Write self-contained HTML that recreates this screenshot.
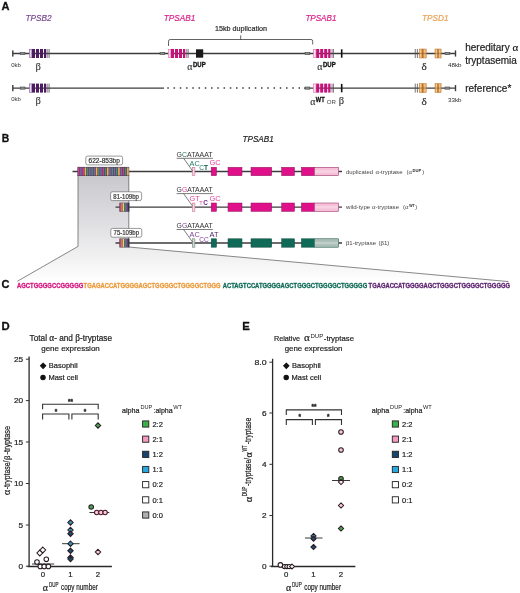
<!DOCTYPE html>
<html><head><meta charset="utf-8"><title>Figure</title>
<style>
html,body{margin:0;padding:0;background:#fff;}
svg{display:block;font-family:"Liberation Sans",sans-serif;}
.gk{font-family:"Liberation Serif","DejaVu Serif",serif;}
.b{font-weight:bold;}
.i{font-style:italic;}
</style></head><body>
<svg width="520" height="593" viewBox="0 0 520 593">
<rect width="520" height="593" fill="#fff"/>

<text x="1.5" y="9.7" font-size="11" fill="#111" stroke="#111" stroke-width="0.3" text-anchor="start" class="b" textLength="8" lengthAdjust="spacingAndGlyphs">A</text>
<text x="25.6" y="20.7" font-size="8.8" fill="#7a4c92" stroke="#7a4c92" stroke-width="0.2" text-anchor="start" class="i" textLength="26" lengthAdjust="spacingAndGlyphs">TPSB2</text>
<text x="163.8" y="20.7" font-size="8.8" fill="#d81f86" stroke="#d81f86" stroke-width="0.2" text-anchor="start" class="i" textLength="31.6" lengthAdjust="spacingAndGlyphs">TPSAB1</text>
<text x="305.4" y="20.7" font-size="8.8" fill="#d81f86" stroke="#d81f86" stroke-width="0.2" text-anchor="start" class="i" textLength="31" lengthAdjust="spacingAndGlyphs">TPSAB1</text>
<text x="422" y="20.7" font-size="8.8" fill="#eba355" stroke="#eba355" stroke-width="0.2" text-anchor="start" class="i" textLength="26.5" lengthAdjust="spacingAndGlyphs">TPSD1</text>
<text x="215" y="30.6" font-size="7.2" fill="#2b2b2d" stroke="#2b2b2d" stroke-width="0.2" text-anchor="start" textLength="52" lengthAdjust="spacingAndGlyphs">15kb duplication</text>
<rect x="12.1" y="50.4" width="1.4" height="6.2" fill="#3c3c3e"/>
<rect x="454.8" y="50.4" width="1.4" height="6.2" fill="#3c3c3e"/>
<line x1="13" y1="53.5" x2="455" y2="53.5" stroke="#3c3c3e" stroke-width="1.3"/>
<rect x="20.2" y="52.4" width="4.8" height="2.2" fill="#8c8c8c" stroke="#484848" stroke-width="0.6"/>
<rect x="29.3" y="49.3" width="2.5" height="8.4" fill="#e6d8ee" stroke="#8a5aa0" stroke-width="0.6"/>
<rect x="32" y="49.0" width="3" height="9" fill="#4d1c60"/>
<rect x="36" y="49.0" width="3" height="9" fill="#4d1c60"/>
<rect x="40" y="49.0" width="3" height="9" fill="#4d1c60"/>
<rect x="44" y="49.0" width="2.3" height="9" fill="#4d1c60"/>
<rect x="47.5" y="49.0" width="0.7" height="9" fill="#5a4a5a"/>
<rect x="48.8" y="49.0" width="0.7" height="9" fill="#5a4a5a"/>
<rect x="305" y="52.4" width="4.8" height="2.2" fill="#8c8c8c" stroke="#484848" stroke-width="0.6"/>
<rect x="313.5" y="49.3" width="2.5" height="8.4" fill="#fbe0ee" stroke="#e86aac" stroke-width="0.6"/>
<rect x="316.2" y="49.0" width="3" height="9" fill="#c4127a"/>
<rect x="320.2" y="49.0" width="3" height="9" fill="#c4127a"/>
<rect x="324.2" y="49.0" width="3" height="9" fill="#c4127a"/>
<rect x="328.2" y="49.0" width="2.3" height="9" fill="#c4127a"/>
<rect x="331.7" y="49.0" width="0.7" height="9" fill="#5a4a5a"/>
<rect x="333.0" y="49.0" width="0.7" height="9" fill="#5a4a5a"/>
<rect x="340.9" y="49.3" width="1.6" height="8.4" fill="#111"/>
<rect x="414.8" y="49.0" width="0.8" height="9" fill="#555"/>
<rect x="416.9" y="49.0" width="0.8" height="9" fill="#555"/>
<rect x="419.4" y="49.0" width="6.8" height="9" fill="#e9983f" fill-opacity="0.9" stroke="#b87a3a" stroke-width="0.5"/>
<rect x="422.4" y="49.0" width="0.8" height="9" fill="#8a5a2a"/>
<rect x="420.29999999999995" y="49.3" width="0.8" height="8.4" fill="#fbe3c2" opacity="0.8"/>
<rect x="424.5" y="49.3" width="0.8" height="8.4" fill="#fbe3c2" opacity="0.8"/>
<rect x="419.4" y="53.0" width="6.8" height="1" fill="#7a5a3a" opacity="0.45"/>
<rect x="435" y="49.0" width="6.1" height="9" fill="#e9983f" fill-opacity="0.9" stroke="#b87a3a" stroke-width="0.5"/>
<rect x="437.65000000000003" y="49.0" width="0.8" height="9" fill="#8a5a2a"/>
<rect x="435.9" y="49.3" width="0.8" height="8.4" fill="#fbe3c2" opacity="0.8"/>
<rect x="439.40000000000003" y="49.3" width="0.8" height="8.4" fill="#fbe3c2" opacity="0.8"/>
<rect x="435" y="53.0" width="6.1" height="1" fill="#7a5a3a" opacity="0.45"/>
<rect x="445" y="52.4" width="4.8" height="2.2" fill="#8c8c8c" stroke="#484848" stroke-width="0.6"/>
<text x="11.2" y="66.5" font-size="6" fill="#333" text-anchor="start">0kb</text>
<text x="35.6" y="69.5" font-size="10.5" fill="#444" stroke="#444" stroke-width="0.2" text-anchor="start" class="gk">β</text>
<text x="421.6" y="70.4" font-size="11.2" fill="#333" stroke="#333" stroke-width="0.2" text-anchor="start" class="gk">δ</text>
<rect x="12.1" y="85.0" width="1.4" height="6.2" fill="#3c3c3e"/>
<rect x="454.8" y="85.0" width="1.4" height="6.2" fill="#3c3c3e"/>
<line x1="13" y1="88.1" x2="164" y2="88.1" stroke="#3c3c3e" stroke-width="1.3"/>
<line x1="167.3" y1="88.1" x2="302" y2="88.1" stroke="#3c3c3e" stroke-width="1.5" stroke-dasharray="1.5 4.75"/>
<line x1="304" y1="88.1" x2="455" y2="88.1" stroke="#3c3c3e" stroke-width="1.3"/>
<rect x="20.2" y="87.0" width="4.8" height="2.2" fill="#8c8c8c" stroke="#484848" stroke-width="0.6"/>
<rect x="29.3" y="83.89999999999999" width="2.5" height="8.4" fill="#e6d8ee" stroke="#8a5aa0" stroke-width="0.6"/>
<rect x="32" y="83.6" width="3" height="9" fill="#4d1c60"/>
<rect x="36" y="83.6" width="3" height="9" fill="#4d1c60"/>
<rect x="40" y="83.6" width="3" height="9" fill="#4d1c60"/>
<rect x="44" y="83.6" width="2.3" height="9" fill="#4d1c60"/>
<rect x="47.5" y="83.6" width="0.7" height="9" fill="#5a4a5a"/>
<rect x="48.8" y="83.6" width="0.7" height="9" fill="#5a4a5a"/>
<rect x="305" y="87.0" width="4.8" height="2.2" fill="#8c8c8c" stroke="#484848" stroke-width="0.6"/>
<rect x="313.5" y="83.89999999999999" width="2.5" height="8.4" fill="#fbe0ee" stroke="#e86aac" stroke-width="0.6"/>
<rect x="316.2" y="83.6" width="3" height="9" fill="#c4127a"/>
<rect x="320.2" y="83.6" width="3" height="9" fill="#c4127a"/>
<rect x="324.2" y="83.6" width="3" height="9" fill="#c4127a"/>
<rect x="328.2" y="83.6" width="2.3" height="9" fill="#c4127a"/>
<rect x="331.7" y="83.6" width="0.7" height="9" fill="#5a4a5a"/>
<rect x="333.0" y="83.6" width="0.7" height="9" fill="#5a4a5a"/>
<rect x="340.9" y="83.89999999999999" width="1.6" height="8.4" fill="#111"/>
<rect x="414.8" y="83.6" width="0.8" height="9" fill="#555"/>
<rect x="416.9" y="83.6" width="0.8" height="9" fill="#555"/>
<rect x="419.4" y="83.6" width="6.8" height="9" fill="#e9983f" fill-opacity="0.9" stroke="#b87a3a" stroke-width="0.5"/>
<rect x="422.4" y="83.6" width="0.8" height="9" fill="#8a5a2a"/>
<rect x="420.29999999999995" y="83.89999999999999" width="0.8" height="8.4" fill="#fbe3c2" opacity="0.8"/>
<rect x="424.5" y="83.89999999999999" width="0.8" height="8.4" fill="#fbe3c2" opacity="0.8"/>
<rect x="419.4" y="87.6" width="6.8" height="1" fill="#7a5a3a" opacity="0.45"/>
<rect x="435" y="83.6" width="6.1" height="9" fill="#e9983f" fill-opacity="0.9" stroke="#b87a3a" stroke-width="0.5"/>
<rect x="437.65000000000003" y="83.6" width="0.8" height="9" fill="#8a5a2a"/>
<rect x="435.9" y="83.89999999999999" width="0.8" height="8.4" fill="#fbe3c2" opacity="0.8"/>
<rect x="439.40000000000003" y="83.89999999999999" width="0.8" height="8.4" fill="#fbe3c2" opacity="0.8"/>
<rect x="435" y="87.6" width="6.1" height="1" fill="#7a5a3a" opacity="0.45"/>
<rect x="445" y="87.0" width="4.8" height="2.2" fill="#8c8c8c" stroke="#484848" stroke-width="0.6"/>
<text x="11.2" y="101.1" font-size="6" fill="#333" text-anchor="start">0kb</text>
<text x="35.6" y="104.1" font-size="10.5" fill="#444" stroke="#444" stroke-width="0.2" text-anchor="start" class="gk">β</text>
<text x="421.6" y="105.0" font-size="11.2" fill="#333" stroke="#333" stroke-width="0.2" text-anchor="start" class="gk">δ</text>
<rect x="160" y="52.4" width="4.8" height="2.2" fill="#8c8c8c" stroke="#484848" stroke-width="0.6"/>
<rect x="168.3" y="49.3" width="2.5" height="8.4" fill="#fbe0ee" stroke="#e86aac" stroke-width="0.6"/>
<rect x="171" y="49.0" width="3" height="9" fill="#c4127a"/>
<rect x="175" y="49.0" width="3" height="9" fill="#c4127a"/>
<rect x="179" y="49.0" width="3" height="9" fill="#c4127a"/>
<rect x="183" y="49.0" width="2.3" height="9" fill="#c4127a"/>
<rect x="186.5" y="49.0" width="0.7" height="9" fill="#5a4a5a"/>
<rect x="187.8" y="49.0" width="0.7" height="9" fill="#5a4a5a"/>
<rect x="196" y="49.3" width="7.2" height="8.4" fill="#1a1a1a"/>
<path d="M168.5 46 V41.2 Q168.5 39.5 170.2 39.5 H311 Q312.7 39.5 312.7 41.2 V44.5 M240.7 39.5 V35.4" fill="none" stroke="#3c3c3e" stroke-width="0.8"/>
<text x="187.2" y="69.9" font-size="9.6" fill="#444" stroke="#444" stroke-width="0.2" text-anchor="start" class="gk" textLength="5.2" lengthAdjust="spacingAndGlyphs">α</text>
<text x="193" y="67.2" font-size="6.8" fill="#111" stroke="#111" stroke-width="0.3" text-anchor="start" class="b" textLength="12.7" lengthAdjust="spacingAndGlyphs">DUP</text>
<text x="317.2" y="69.9" font-size="9.6" fill="#444" stroke="#444" stroke-width="0.2" text-anchor="start" class="gk" textLength="5.2" lengthAdjust="spacingAndGlyphs">α</text>
<text x="323" y="67.2" font-size="6.8" fill="#111" stroke="#111" stroke-width="0.3" text-anchor="start" class="b" textLength="12.7" lengthAdjust="spacingAndGlyphs">DUP</text>
<text x="310.2" y="104.5" font-size="9.6" fill="#444" stroke="#444" stroke-width="0.2" text-anchor="start" class="gk" textLength="5.2" lengthAdjust="spacingAndGlyphs">α</text>
<text x="315.8" y="101.8" font-size="6.8" fill="#111" stroke="#111" stroke-width="0.3" text-anchor="start" class="b" textLength="8.8" lengthAdjust="spacingAndGlyphs">WT</text>
<text x="326.7" y="104.4" font-size="6" fill="#444" text-anchor="start" textLength="9.2" lengthAdjust="spacingAndGlyphs">OR</text>
<text x="338.8" y="104.4" font-size="10.5" fill="#444" stroke="#444" stroke-width="0.2" text-anchor="start" class="gk">β</text>
<text x="448" y="67" font-size="6" fill="#2a2a2a" text-anchor="start" textLength="13.6" lengthAdjust="spacingAndGlyphs">48kb</text>
<text x="448" y="101.6" font-size="6" fill="#2a2a2a" text-anchor="start" textLength="13.6" lengthAdjust="spacingAndGlyphs">33kb</text>
<text x="465.2" y="51" font-size="10" fill="#222" stroke="#222" stroke-width="0.2" text-anchor="start">hereditary <tspan class="gk" font-size="11">α</tspan></text>
<text x="465.2" y="63.5" font-size="10" fill="#222" stroke="#222" stroke-width="0.2" text-anchor="start" textLength="51.7" lengthAdjust="spacingAndGlyphs">tryptasemia</text>
<text x="465.2" y="91.6" font-size="10" fill="#222" stroke="#222" stroke-width="0.2" text-anchor="start">reference*</text>
<text x="1.8" y="141.7" font-size="11" fill="#111" stroke="#111" stroke-width="0.3" text-anchor="start" class="b" textLength="7.5" lengthAdjust="spacingAndGlyphs">B</text>
<text x="242.5" y="142" font-size="8.6" fill="#222" stroke="#222" stroke-width="0.2" text-anchor="start" class="i" textLength="31.2" lengthAdjust="spacingAndGlyphs">TPSAB1</text>
<defs>
<linearGradient id="g1" x1="0" y1="0" x2="0" y2="1"><stop offset="0" stop-color="#c9c9cd"/><stop offset="0.45" stop-color="#dfdfe2"/><stop offset="0.75" stop-color="#f0f0f1"/><stop offset="1" stop-color="#ffffff"/></linearGradient>
</defs>
<path d="M78 175 H128.8 V247 L508.5 281.8 H17 L78 246.4 Z" fill="url(#g1)"/>
<path d="M78 175 V246.4 L17.3 281.3 M128.8 175 V247 L508.5 281.6" fill="none" stroke="#555" stroke-width="0.7"/>
<line x1="72.5" y1="171.5" x2="342" y2="171.5" stroke="#3c3c3e" stroke-width="1.3"/>
<line x1="115.5" y1="207.2" x2="342" y2="207.2" stroke="#3c3c3e" stroke-width="1.3"/>
<line x1="115.5" y1="243" x2="342" y2="243" stroke="#3c3c3e" stroke-width="1.3"/>
<rect x="77.4" y="166.9" width="51.8" height="9.1" fill="#4a3c54"/>
<rect x="77.90" y="167.4" width="1.63" height="8.1" fill="#c4408c"/>
<rect x="80.13" y="167.4" width="1.63" height="8.1" fill="#8462a6"/>
<rect x="82.37" y="167.4" width="1.63" height="8.1" fill="#c4408c"/>
<rect x="84.60" y="167.4" width="1.63" height="8.1" fill="#f2ae4e"/>
<rect x="86.84" y="167.4" width="1.63" height="8.1" fill="#4a8c7a"/>
<rect x="89.07" y="167.4" width="1.63" height="8.1" fill="#8462a6"/>
<rect x="91.31" y="167.4" width="1.63" height="8.1" fill="#4a8c7a"/>
<rect x="93.54" y="167.4" width="1.63" height="8.1" fill="#8462a6"/>
<rect x="95.78" y="167.4" width="1.63" height="8.1" fill="#f2ae4e"/>
<rect x="98.01" y="167.4" width="1.63" height="8.1" fill="#4a8c7a"/>
<rect x="100.25" y="167.4" width="1.63" height="8.1" fill="#8462a6"/>
<rect x="102.48" y="167.4" width="1.63" height="8.1" fill="#c4408c"/>
<rect x="104.72" y="167.4" width="1.63" height="8.1" fill="#4a8c7a"/>
<rect x="106.95" y="167.4" width="1.63" height="8.1" fill="#f2ae4e"/>
<rect x="109.19" y="167.4" width="1.63" height="8.1" fill="#8462a6"/>
<rect x="111.42" y="167.4" width="1.63" height="8.1" fill="#4a8c7a"/>
<rect x="113.66" y="167.4" width="1.63" height="8.1" fill="#8462a6"/>
<rect x="115.89" y="167.4" width="1.63" height="8.1" fill="#4a8c7a"/>
<rect x="118.13" y="167.4" width="1.63" height="8.1" fill="#f2ae4e"/>
<rect x="120.36" y="167.4" width="1.63" height="8.1" fill="#8462a6"/>
<rect x="122.60" y="167.4" width="1.63" height="8.1" fill="#c4408c"/>
<rect x="124.83" y="167.4" width="1.63" height="8.1" fill="#4a8c7a"/>
<rect x="127.07" y="167.4" width="1.63" height="8.1" fill="#f2ae4e"/>
<rect x="119.4" y="202.7" width="10" height="9" fill="#4a3c54"/>
<rect x="119.75" y="203.1" width="1.2" height="8.2" fill="#c4408c"/>
<rect x="121.37" y="203.1" width="1.2" height="8.2" fill="#f2ae4e"/>
<rect x="122.99" y="203.1" width="1.2" height="8.2" fill="#f6c878"/>
<rect x="124.61" y="203.1" width="1.2" height="8.2" fill="#4a8c7a"/>
<rect x="126.23" y="203.1" width="1.2" height="8.2" fill="#8462a6"/>
<rect x="127.85" y="203.1" width="1.2" height="8.2" fill="#3a3040"/>
<rect x="119.4" y="238.5" width="10" height="9" fill="#4a3c54"/>
<rect x="119.75" y="238.9" width="1.2" height="8.2" fill="#c4408c"/>
<rect x="121.37" y="238.9" width="1.2" height="8.2" fill="#f2ae4e"/>
<rect x="122.99" y="238.9" width="1.2" height="8.2" fill="#f6c878"/>
<rect x="124.61" y="238.9" width="1.2" height="8.2" fill="#4a8c7a"/>
<rect x="126.23" y="238.9" width="1.2" height="8.2" fill="#8462a6"/>
<rect x="127.85" y="238.9" width="1.2" height="8.2" fill="#3a3040"/>
<rect x="85.8" y="156.1" width="36.8" height="8.8" rx="1.8" fill="#fff" stroke="#555" stroke-width="0.6"/>
<text x="104.19999999999999" y="162.9" font-size="6.6" fill="#333" stroke="#333" stroke-width="0.2" text-anchor="middle" textLength="31.299999999999997" lengthAdjust="spacingAndGlyphs">622-853bp</text>
<rect x="110.6" y="191.8" width="31" height="8.8" rx="1.8" fill="#fff" stroke="#555" stroke-width="0.6"/>
<text x="126.1" y="198.60000000000002" font-size="6.6" fill="#333" stroke="#333" stroke-width="0.2" text-anchor="middle" textLength="25.5" lengthAdjust="spacingAndGlyphs">81-109bp</text>
<rect x="110.8" y="228.4" width="31" height="8.8" rx="1.8" fill="#fff" stroke="#555" stroke-width="0.6"/>
<text x="126.3" y="235.20000000000002" font-size="6.6" fill="#333" stroke="#333" stroke-width="0.2" text-anchor="middle" textLength="25.5" lengthAdjust="spacingAndGlyphs">75-109bp</text>
<rect x="211.2" y="167.3" width="5.3" height="8.4" fill="#e0108a" stroke="#8a1458" stroke-width="0.5"/>
<rect x="228" y="167.3" width="14" height="8.4" fill="#e0108a" stroke="#8a1458" stroke-width="0.5"/>
<rect x="251" y="167.3" width="20.7" height="8.4" fill="#e0108a" stroke="#8a1458" stroke-width="0.5"/>
<rect x="281.7" y="167.3" width="12.8" height="8.4" fill="#e0108a" stroke="#8a1458" stroke-width="0.5"/>
<rect x="301.4" y="167.3" width="13" height="8.4" fill="#e0108a" stroke="#8a1458" stroke-width="0.5"/>
<rect x="314.3" y="167.3" width="24.3" height="8.4" fill="#f5c0d8" stroke="#8a1458" stroke-width="0.5"/>
<rect x="314.8" y="170.2" width="23.4" height="2.6" fill="#fff" opacity="0.28"/>
<rect x="211.2" y="203.0" width="5.3" height="8.4" fill="#e0108a" stroke="#8a1458" stroke-width="0.5"/>
<rect x="228" y="203.0" width="14" height="8.4" fill="#e0108a" stroke="#8a1458" stroke-width="0.5"/>
<rect x="251" y="203.0" width="20.7" height="8.4" fill="#e0108a" stroke="#8a1458" stroke-width="0.5"/>
<rect x="281.7" y="203.0" width="12.8" height="8.4" fill="#e0108a" stroke="#8a1458" stroke-width="0.5"/>
<rect x="301.4" y="203.0" width="13" height="8.4" fill="#e0108a" stroke="#8a1458" stroke-width="0.5"/>
<rect x="314.3" y="203.0" width="24.3" height="8.4" fill="#f5c0d8" stroke="#8a1458" stroke-width="0.5"/>
<rect x="314.8" y="205.89999999999998" width="23.4" height="2.6" fill="#fff" opacity="0.28"/>
<rect x="211.2" y="238.8" width="5.3" height="8.4" fill="#0f6b57" stroke="#0a4a3c" stroke-width="0.5"/>
<rect x="228" y="238.8" width="14" height="8.4" fill="#0f6b57" stroke="#0a4a3c" stroke-width="0.5"/>
<rect x="251" y="238.8" width="20.7" height="8.4" fill="#0f6b57" stroke="#0a4a3c" stroke-width="0.5"/>
<rect x="281.7" y="238.8" width="12.8" height="8.4" fill="#0f6b57" stroke="#0a4a3c" stroke-width="0.5"/>
<rect x="301.4" y="238.8" width="13" height="8.4" fill="#0f6b57" stroke="#0a4a3c" stroke-width="0.5"/>
<rect x="314.3" y="238.8" width="24.3" height="8.4" fill="#a9bdb6" stroke="#0a4a3c" stroke-width="0.5"/>
<rect x="314.8" y="241.7" width="23.4" height="2.6" fill="#fff" opacity="0.28"/>
<rect x="192.3" y="167.3" width="2.6" height="8.4" fill="#f8dbe6" stroke="#c06080" stroke-width="0.5"/>
<rect x="192.3" y="203.0" width="2.6" height="8.4" fill="#f8dbe6" stroke="#c06080" stroke-width="0.5"/>
<rect x="192.3" y="238.8" width="2.6" height="8.4" fill="#cfd8d4" stroke="#607068" stroke-width="0.5"/>
<text x="346" y="173.7" font-size="6" fill="#444" text-anchor="start" textLength="27" lengthAdjust="spacingAndGlyphs">duplicated</text>
<text x="375.5" y="173.7" font-size="6" fill="#444" text-anchor="start" textLength="27" lengthAdjust="spacingAndGlyphs"><tspan class="gk" font-size="6.6">α</tspan>-tryptase</text>
<text x="406.6" y="173.7" font-size="6" fill="#444" text-anchor="start">(<tspan class="gk" font-size="6.6">α</tspan></text>
<text x="412.6" y="171.6" font-size="3.9" fill="#222" text-anchor="start" class="b" textLength="8.6" lengthAdjust="spacingAndGlyphs">DUP</text>
<text x="422.2" y="173.7" font-size="6" fill="#444" text-anchor="start">)</text>
<text x="346" y="208.9" font-size="6" fill="#444" text-anchor="start" textLength="24.3" lengthAdjust="spacingAndGlyphs">wild-type</text>
<text x="372" y="208.9" font-size="6" fill="#444" text-anchor="start" textLength="27" lengthAdjust="spacingAndGlyphs"><tspan class="gk" font-size="6.6">α</tspan>-tryptase</text>
<text x="403.1" y="208.9" font-size="6" fill="#444" text-anchor="start">(<tspan class="gk" font-size="6.6">α</tspan></text>
<text x="409.2" y="206.8" font-size="3.9" fill="#222" text-anchor="start" class="b" textLength="5.4" lengthAdjust="spacingAndGlyphs">WT</text>
<text x="415.2" y="208.9" font-size="6" fill="#444" text-anchor="start">)</text>
<text x="346" y="244.6" font-size="6" fill="#444" text-anchor="start" textLength="30" lengthAdjust="spacingAndGlyphs"><tspan class="gk" font-size="6.6">β</tspan>1-tryptase</text>
<text x="378.4" y="244.6" font-size="6" fill="#444" text-anchor="start" textLength="11" lengthAdjust="spacingAndGlyphs">(<tspan class="gk" font-size="6.6">β</tspan>1)</text>
<text x="176.6" y="157.1" font-size="7.1" fill="#333" text-anchor="start" textLength="36" lengthAdjust="spacingAndGlyphs">G<tspan fill="#1f7a66">C</tspan>ATAAAT</text>
<path d="M176.6 158.29999999999998 H212.8 M183.6 158.29999999999998 L192.4 170.6" fill="none" stroke="#444" stroke-width="0.7"/>
<text x="189.6" y="165.7" font-size="7.3" fill="#2b2b2d" text-anchor="start"><tspan fill="#1f7a66">AC</tspan></text>
<text x="199.3" y="170.29999999999998" font-size="6.6" fill="#2b2b2d" text-anchor="start"><tspan fill="#1f7a66">C</tspan><tspan fill="#0d5a48" class="b">T</tspan></text>
<text x="209.6" y="165.4" font-size="7.4" fill="#2b2b2d" text-anchor="start"><tspan fill="#e0409a">GC</tspan></text>
<text x="176.6" y="192.4" font-size="7.1" fill="#333" text-anchor="start" textLength="36" lengthAdjust="spacingAndGlyphs">G<tspan fill="#e0409a">G</tspan>ATAAAT</text>
<path d="M176.6 193.6 H212.8 M183.6 193.6 L192.4 205.9" fill="none" stroke="#444" stroke-width="0.7"/>
<text x="189.6" y="201.0" font-size="7.3" fill="#2b2b2d" text-anchor="start"><tspan fill="#e0409a">GT</tspan></text>
<text x="199.3" y="204.79999999999998" font-size="6.6" fill="#2b2b2d" text-anchor="start"><tspan fill="#e0409a" font-size="5.6">T</tspan><tspan fill="#6a2c8c" class="b" font-size="6.4" dx="0.6">C</tspan></text>
<text x="209.6" y="200.70000000000002" font-size="7.4" fill="#2b2b2d" text-anchor="start"><tspan fill="#e0409a">GC</tspan></text>
<text x="176.6" y="228.3" font-size="7.1" fill="#333" text-anchor="start" textLength="36" lengthAdjust="spacingAndGlyphs">G<tspan fill="#7a3f98">G</tspan>ATAAAT</text>
<path d="M176.6 229.5 H212.8 M183.6 229.5 L192.4 241.8" fill="none" stroke="#444" stroke-width="0.7"/>
<text x="189.6" y="236.9" font-size="7.3" fill="#2b2b2d" text-anchor="start"><tspan fill="#7a3f98">AC</tspan></text>
<text x="199.3" y="241.5" font-size="6.6" fill="#2b2b2d" text-anchor="start"><tspan fill="#7a3f98">CC</tspan></text>
<text x="209.6" y="236.60000000000002" font-size="7.4" fill="#2b2b2d" text-anchor="start"><tspan fill="#4a2a6a">AT</tspan></text>
<text x="1.6" y="288.1" font-size="11" fill="#111" stroke="#111" stroke-width="0.3" text-anchor="start" class="b">C</text>
<text x="17" y="287.5" font-size="6.5" fill="#d6147f" stroke="#d6147f" stroke-width="0.3" text-anchor="start" class="b" textLength="66.3" lengthAdjust="spacingAndGlyphs">AGCTGGGGCCGGGGG</text>
<text x="83.6" y="287.5" font-size="6.5" fill="#eb9a3c" stroke="#eb9a3c" stroke-width="0.3" text-anchor="start" class="b" textLength="137" lengthAdjust="spacingAndGlyphs">TGAGACCATGGGGAGCTGGGGCTGGGGCTGGG</text>
<text x="222.8" y="287.5" font-size="6.5" fill="#0f6b57" stroke="#0f6b57" stroke-width="0.3" text-anchor="start" class="b" textLength="144.4" lengthAdjust="spacingAndGlyphs">ACTAGTCCATGGGGAGCTGGGCTGGGGCTGGGGG</text>
<text x="368.6" y="287.5" font-size="6.5" fill="#5d2470" stroke="#5d2470" stroke-width="0.3" text-anchor="start" class="b" textLength="141.4" lengthAdjust="spacingAndGlyphs">TGAGACCATGGGGAGCTGGGCTGGGGCTGGGGG</text>
<text x="1.5" y="330.2" font-size="11.3" fill="#111" stroke="#111" stroke-width="0.3" text-anchor="start" class="b">D</text>
<path d="M29.1 356.6 V566.5 M27.5 566.5 H111.9" fill="none" stroke="#2a2a2a" stroke-width="1.3"/>
<line x1="25.900000000000002" y1="359.2" x2="29.1" y2="359.2" stroke="#333" stroke-width="1"/>
<text x="23.1" y="361.9" font-size="7.6" fill="#222" stroke="#222" stroke-width="0.2" text-anchor="end" textLength="9.2" lengthAdjust="spacingAndGlyphs">25</text>
<line x1="25.900000000000002" y1="400.6" x2="29.1" y2="400.6" stroke="#333" stroke-width="1"/>
<text x="23.1" y="403.3" font-size="7.6" fill="#222" stroke="#222" stroke-width="0.2" text-anchor="end" textLength="9.2" lengthAdjust="spacingAndGlyphs">20</text>
<line x1="25.900000000000002" y1="442" x2="29.1" y2="442" stroke="#333" stroke-width="1"/>
<text x="23.1" y="444.7" font-size="7.6" fill="#222" stroke="#222" stroke-width="0.2" text-anchor="end" textLength="9.2" lengthAdjust="spacingAndGlyphs">15</text>
<line x1="25.900000000000002" y1="483.5" x2="29.1" y2="483.5" stroke="#333" stroke-width="1"/>
<text x="23.1" y="486.2" font-size="7.6" fill="#222" stroke="#222" stroke-width="0.2" text-anchor="end" textLength="9.2" lengthAdjust="spacingAndGlyphs">10</text>
<line x1="25.900000000000002" y1="525" x2="29.1" y2="525" stroke="#333" stroke-width="1"/>
<text x="23.1" y="527.7" font-size="7.6" fill="#222" stroke="#222" stroke-width="0.2" text-anchor="end" textLength="4.6" lengthAdjust="spacingAndGlyphs">5</text>
<line x1="25.900000000000002" y1="566.2" x2="29.1" y2="566.2" stroke="#333" stroke-width="1"/>
<text x="23.1" y="568.9000000000001" font-size="7.6" fill="#222" stroke="#222" stroke-width="0.2" text-anchor="end" textLength="4.6" lengthAdjust="spacingAndGlyphs">0</text>
<text x="43" y="577.4" font-size="7.8" fill="#222" stroke="#222" stroke-width="0.2" text-anchor="middle">0</text>
<text x="70.5" y="577.4" font-size="7.8" fill="#222" stroke="#222" stroke-width="0.2" text-anchor="middle">1</text>
<text x="98" y="577.4" font-size="7.8" fill="#222" stroke="#222" stroke-width="0.2" text-anchor="middle">2</text>
<text transform="translate(42.8 590.6) scale(1.0335 1)" font-size="9.6" fill="#222" stroke="#222" stroke-width="0.2" class="gk">α</text>
<text transform="translate(48.9 586.9) scale(0.6686 1)" font-size="6.8" fill="#222" stroke="#222" stroke-width="0.2">DUP</text>
<text transform="translate(61.1 590.2) scale(0.7406 1)" font-size="8.6" fill="#222" stroke="#222" stroke-width="0.2">copy number</text>
<path d="M43.1 363.2 L45.7 365.8 L43.1 368.40000000000003 L40.5 365.8 Z" fill="#111" stroke="#111" stroke-width="1.05"/>
<text x="48.8" y="368.1" font-size="7.5" fill="#222" stroke="#222" stroke-width="0.2" text-anchor="start">Basophil</text>
<circle cx="43" cy="377.5" r="2.2" fill="#111" stroke="#111" stroke-width="1.05"/>
<text x="48.4" y="380.1" font-size="7.5" fill="#222" stroke="#222" stroke-width="0.2" text-anchor="start">Mast cell</text>
<text x="122" y="413" font-size="7.2" fill="#222" stroke="#222" stroke-width="0.2" text-anchor="start" textLength="17.6" lengthAdjust="spacingAndGlyphs">alpha</text>
<text x="140.4" y="409.3" font-size="5.3" fill="#222" text-anchor="start" textLength="11.8" lengthAdjust="spacingAndGlyphs">DUP</text>
<text x="153.5" y="413" font-size="7.2" fill="#222" stroke="#222" stroke-width="0.2" text-anchor="start" textLength="19.2" lengthAdjust="spacingAndGlyphs">:alpha</text>
<text x="173.2" y="409.3" font-size="5.3" fill="#222" text-anchor="start" textLength="8.8" lengthAdjust="spacingAndGlyphs">WT</text>
<rect x="142.6" y="420.9" width="6.2" height="6.2" fill="#3fae49" stroke="#222" stroke-width="0.9"/>
<text x="152.4" y="426.8" font-size="7.5" fill="#222" stroke="#222" stroke-width="0.2" text-anchor="start">2:2</text>
<rect x="142.6" y="436.07" width="6.2" height="6.2" fill="#f49ac1" stroke="#222" stroke-width="0.9"/>
<text x="152.4" y="441.97" font-size="7.5" fill="#222" stroke="#222" stroke-width="0.2" text-anchor="start">2:1</text>
<rect x="142.6" y="451.23999999999995" width="6.2" height="6.2" fill="#17456e" stroke="#222" stroke-width="0.9"/>
<text x="152.4" y="457.14" font-size="7.5" fill="#222" stroke="#222" stroke-width="0.2" text-anchor="start">1:2</text>
<rect x="142.6" y="466.40999999999997" width="6.2" height="6.2" fill="#29a9e0" stroke="#222" stroke-width="0.9"/>
<text x="152.4" y="472.31" font-size="7.5" fill="#222" stroke="#222" stroke-width="0.2" text-anchor="start">1:1</text>
<rect x="142.6" y="481.58" width="6.2" height="6.2" fill="#fff" stroke="#222" stroke-width="0.9"/>
<text x="152.4" y="487.48" font-size="7.5" fill="#222" stroke="#222" stroke-width="0.2" text-anchor="start">0:2</text>
<rect x="142.6" y="496.75" width="6.2" height="6.2" fill="#fff" stroke="#222" stroke-width="0.9"/>
<text x="152.4" y="502.65000000000003" font-size="7.5" fill="#222" stroke="#222" stroke-width="0.2" text-anchor="start">0:1</text>
<rect x="142.6" y="511.91999999999996" width="6.2" height="6.2" fill="#b0b0b0" stroke="#222" stroke-width="0.9"/>
<text x="152.4" y="517.8199999999999" font-size="7.5" fill="#222" stroke="#222" stroke-width="0.2" text-anchor="start">0:0</text>
<text x="29.6" y="341" font-size="8.3" fill="#222" stroke="#222" stroke-width="0.2" text-anchor="start" textLength="82.4" lengthAdjust="spacingAndGlyphs">Total <tspan class="gk" font-size="9.4">α</tspan>- and <tspan class="gk" font-size="9.4">β</tspan>-tryptase</text>
<text x="41.2" y="350.8" font-size="8" fill="#222" stroke="#222" stroke-width="0.2" text-anchor="start" textLength="58.6" lengthAdjust="spacingAndGlyphs">gene expression</text>
<g transform="translate(9.7 495) rotate(-90)">
<text transform="translate(0 0.3) scale(1.0335 1)" font-size="9.6" fill="#222" stroke="#222" stroke-width="0.2" class="gk">α</text>
<text transform="translate(5.8 0) scale(0.8010 1)" font-size="8.6" fill="#222" stroke="#222" stroke-width="0.2">-tryptase/</text>
<text transform="translate(35 0.3) scale(0.9600 1)" font-size="9.2" fill="#222" stroke="#222" stroke-width="0.2" class="gk">β</text>
<text transform="translate(40.5 0) scale(0.8523 1)" font-size="8.6" fill="#222" stroke="#222" stroke-width="0.2">-tryptase</text>
</g>
<path d="M42.6 409.3 V404.3 H98.2 V409.3 M42.6 419.5 V414.0 H68.9 V419.5 M71.9 419.5 V414.0 H98.2 V419.5" fill="none" stroke="#333" stroke-width="1.1"/>
<text x="70.4" y="403.7" font-size="6.4" fill="#222" stroke="#222" stroke-width="0.3" text-anchor="middle" class="b">**</text>
<text x="56.1" y="413.5" font-size="6.4" fill="#222" stroke="#222" stroke-width="0.3" text-anchor="middle" class="b">*</text>
<text x="84.9" y="413.5" font-size="6.4" fill="#222" stroke="#222" stroke-width="0.3" text-anchor="middle" class="b">*</text>
<line x1="32" y1="564" x2="54.2" y2="564" stroke="#222" stroke-width="0.9"/>
<line x1="62" y1="543.7" x2="79.6" y2="543.7" stroke="#222" stroke-width="0.9"/>
<line x1="89.4" y1="512.5" x2="109.3" y2="512.5" stroke="#222" stroke-width="0.9"/>
<path d="M39.8 550.1 L42.699999999999996 553 L39.8 555.9 L36.9 553 Z" fill="#fff" stroke="#2a1a22" stroke-width="1.05"/>
<path d="M42.8 547.1 L45.699999999999996 550 L42.8 552.9 L39.9 550 Z" fill="#fff" stroke="#2a1a22" stroke-width="1.05"/>
<circle cx="37" cy="562" r="2.3" fill="#fff" stroke="#2a1a22" stroke-width="1.05"/>
<circle cx="46.3" cy="559.3" r="2.3" fill="#fff" stroke="#2a1a22" stroke-width="1.05"/>
<circle cx="40.3" cy="566.4" r="2.3" fill="#fff" stroke="#2a1a22" stroke-width="1.05"/>
<circle cx="44.2" cy="566.4" r="2.3" fill="#fff" stroke="#2a1a22" stroke-width="1.05"/>
<circle cx="48.4" cy="566.4" r="2.3" fill="#fff" stroke="#2a1a22" stroke-width="1.05"/>
<path d="M70.5 519.8 L73.2 522.5 L70.5 525.2 L67.8 522.5 Z" fill="#3a8fb4" stroke="#2a1a22" stroke-width="1.05"/>
<path d="M70.5 527.3 L73.2 530 L70.5 532.7 L67.8 530 Z" fill="#3a8fb4" stroke="#2a1a22" stroke-width="1.05"/>
<path d="M70.5 531.0 L73.2 533.7 L70.5 536.4000000000001 L67.8 533.7 Z" fill="#1d4a6a" stroke="#2a1a22" stroke-width="1.05"/>
<path d="M70.5 541.0 L73.2 543.7 L70.5 546.4000000000001 L67.8 543.7 Z" fill="#3a8fb4" stroke="#2a1a22" stroke-width="1.05"/>
<path d="M70.5 548.0999999999999 L73.2 550.8 L70.5 553.5 L67.8 550.8 Z" fill="#1d4a6a" stroke="#2a1a22" stroke-width="1.05"/>
<path d="M70.5 554.8 L73.2 557.5 L70.5 560.2 L67.8 557.5 Z" fill="#3a8fb4" stroke="#2a1a22" stroke-width="1.05"/>
<path d="M70.5 556.3 L73.2 559 L70.5 561.7 L67.8 559 Z" fill="#1d4a6a" stroke="#2a1a22" stroke-width="1.05"/>
<circle cx="91.2" cy="507" r="2.3" fill="#45a452" stroke="#2a1a22" stroke-width="1.05"/>
<circle cx="96.7" cy="512.5" r="2.2" fill="#f8ccd9" stroke="#4a1a2a" stroke-width="1.05"/>
<circle cx="100.9" cy="512.5" r="2.2" fill="#f8ccd9" stroke="#4a1a2a" stroke-width="1.05"/>
<circle cx="105.1" cy="512.5" r="2.2" fill="#f8ccd9" stroke="#4a1a2a" stroke-width="1.05"/>
<path d="M98 549.3 L100.7 552 L98 554.7 L95.3 552 Z" fill="#f8ccd9" stroke="#2a1a22" stroke-width="1.05"/>
<path d="M98 422.8 L100.7 425.5 L98 428.2 L95.3 425.5 Z" fill="#45a452" stroke="#2a1a22" stroke-width="1.05"/>
<text x="242.3" y="330.2" font-size="11.3" fill="#111" stroke="#111" stroke-width="0.3" text-anchor="start" class="b">E</text>
<path d="M272.6 358.8 V566.5 M271.0 566.5 H355.40000000000003" fill="none" stroke="#2a2a2a" stroke-width="1.3"/>
<line x1="269.40000000000003" y1="362.2" x2="272.6" y2="362.2" stroke="#333" stroke-width="1"/>
<text x="266.6" y="364.9" font-size="7.6" fill="#222" stroke="#222" stroke-width="0.2" text-anchor="end" textLength="12.2" lengthAdjust="spacingAndGlyphs">8.0</text>
<line x1="269.40000000000003" y1="413" x2="272.6" y2="413" stroke="#333" stroke-width="1"/>
<text x="266.6" y="415.7" font-size="7.6" fill="#222" stroke="#222" stroke-width="0.2" text-anchor="end" textLength="4.6" lengthAdjust="spacingAndGlyphs">6</text>
<line x1="269.40000000000003" y1="464.3" x2="272.6" y2="464.3" stroke="#333" stroke-width="1"/>
<text x="266.6" y="467.0" font-size="7.6" fill="#222" stroke="#222" stroke-width="0.2" text-anchor="end" textLength="4.6" lengthAdjust="spacingAndGlyphs">4</text>
<line x1="269.40000000000003" y1="515.5" x2="272.6" y2="515.5" stroke="#333" stroke-width="1"/>
<text x="266.6" y="518.2" font-size="7.6" fill="#222" stroke="#222" stroke-width="0.2" text-anchor="end" textLength="4.6" lengthAdjust="spacingAndGlyphs">2</text>
<line x1="269.40000000000003" y1="566.2" x2="272.6" y2="566.2" stroke="#333" stroke-width="1"/>
<text x="266.6" y="568.9000000000001" font-size="7.6" fill="#222" stroke="#222" stroke-width="0.2" text-anchor="end" textLength="4.6" lengthAdjust="spacingAndGlyphs">0</text>
<text x="286.2" y="577.4" font-size="7.8" fill="#222" stroke="#222" stroke-width="0.2" text-anchor="middle">0</text>
<text x="313.4" y="577.4" font-size="7.8" fill="#222" stroke="#222" stroke-width="0.2" text-anchor="middle">1</text>
<text x="341" y="577.4" font-size="7.8" fill="#222" stroke="#222" stroke-width="0.2" text-anchor="middle">2</text>
<text transform="translate(286.0 590.6) scale(1.0335 1)" font-size="9.6" fill="#222" stroke="#222" stroke-width="0.2" class="gk">α</text>
<text transform="translate(292.09999999999997 586.9) scale(0.6686 1)" font-size="6.8" fill="#222" stroke="#222" stroke-width="0.2">DUP</text>
<text transform="translate(304.3 590.2) scale(0.7406 1)" font-size="8.6" fill="#222" stroke="#222" stroke-width="0.2">copy number</text>
<path d="M286.3 363.2 L288.90000000000003 365.8 L286.3 368.40000000000003 L283.7 365.8 Z" fill="#111" stroke="#111" stroke-width="1.05"/>
<text x="292.0" y="368.1" font-size="7.5" fill="#222" stroke="#222" stroke-width="0.2" text-anchor="start">Basophil</text>
<circle cx="286.2" cy="377.5" r="2.2" fill="#111" stroke="#111" stroke-width="1.05"/>
<text x="291.59999999999997" y="380.1" font-size="7.5" fill="#222" stroke="#222" stroke-width="0.2" text-anchor="start">Mast cell</text>
<text x="371.7" y="413" font-size="7.2" fill="#222" stroke="#222" stroke-width="0.2" text-anchor="start" textLength="17.6" lengthAdjust="spacingAndGlyphs">alpha</text>
<text x="390.09999999999997" y="409.3" font-size="5.3" fill="#222" text-anchor="start" textLength="11.8" lengthAdjust="spacingAndGlyphs">DUP</text>
<text x="403.2" y="413" font-size="7.2" fill="#222" stroke="#222" stroke-width="0.2" text-anchor="start" textLength="19.2" lengthAdjust="spacingAndGlyphs">:alpha</text>
<text x="422.9" y="409.3" font-size="5.3" fill="#222" text-anchor="start" textLength="8.8" lengthAdjust="spacingAndGlyphs">WT</text>
<rect x="392.3" y="420.9" width="6.2" height="6.2" fill="#3fae49" stroke="#222" stroke-width="0.9"/>
<text x="402.09999999999997" y="426.8" font-size="7.5" fill="#222" stroke="#222" stroke-width="0.2" text-anchor="start">2:2</text>
<rect x="392.3" y="436.07" width="6.2" height="6.2" fill="#f49ac1" stroke="#222" stroke-width="0.9"/>
<text x="402.09999999999997" y="441.97" font-size="7.5" fill="#222" stroke="#222" stroke-width="0.2" text-anchor="start">2:1</text>
<rect x="392.3" y="451.23999999999995" width="6.2" height="6.2" fill="#17456e" stroke="#222" stroke-width="0.9"/>
<text x="402.09999999999997" y="457.14" font-size="7.5" fill="#222" stroke="#222" stroke-width="0.2" text-anchor="start">1:2</text>
<rect x="392.3" y="466.40999999999997" width="6.2" height="6.2" fill="#29a9e0" stroke="#222" stroke-width="0.9"/>
<text x="402.09999999999997" y="472.31" font-size="7.5" fill="#222" stroke="#222" stroke-width="0.2" text-anchor="start">1:1</text>
<rect x="392.3" y="481.58" width="6.2" height="6.2" fill="#fff" stroke="#222" stroke-width="0.9"/>
<text x="402.09999999999997" y="487.48" font-size="7.5" fill="#222" stroke="#222" stroke-width="0.2" text-anchor="start">0:2</text>
<rect x="392.3" y="496.75" width="6.2" height="6.2" fill="#fff" stroke="#222" stroke-width="0.9"/>
<text x="402.09999999999997" y="502.65000000000003" font-size="7.5" fill="#222" stroke="#222" stroke-width="0.2" text-anchor="start">0:1</text>
<text x="273.9" y="341" font-size="8" fill="#222" stroke="#222" stroke-width="0.2" text-anchor="start" textLength="26.2" lengthAdjust="spacingAndGlyphs">Relative</text>
<text x="304" y="341" font-size="10.2" fill="#222" stroke="#222" stroke-width="0.2" text-anchor="start" class="gk" textLength="5.8" lengthAdjust="spacingAndGlyphs">α</text>
<text x="310.4" y="337.8" font-size="6.1" fill="#222" text-anchor="start" textLength="12.8" lengthAdjust="spacingAndGlyphs">DUP</text>
<text x="323.8" y="341" font-size="8" fill="#222" stroke="#222" stroke-width="0.2" text-anchor="start" textLength="30.2" lengthAdjust="spacingAndGlyphs">-tryptase</text>
<text x="284.7" y="350.8" font-size="8" fill="#222" stroke="#222" stroke-width="0.2" text-anchor="start" textLength="57.8" lengthAdjust="spacingAndGlyphs">gene expression</text>
<g transform="translate(251.2 502.2) rotate(-90)">
<text transform="translate(0 0.3) scale(1.0932 1)" font-size="9.6" fill="#222" stroke="#222" stroke-width="0.2" class="gk">α</text>
<text transform="translate(5.9 -4.4) scale(0.7185 1)" font-size="6.4" fill="#222" stroke="#222" stroke-width="0.2">DUP</text>
<text transform="translate(16.3 0) scale(0.7815 1)" font-size="8.6" fill="#222" stroke="#222" stroke-width="0.2">-tryptase/</text>
<text transform="translate(44.8 0.3) scale(1.0534 1)" font-size="9.6" fill="#222" stroke="#222" stroke-width="0.2" class="gk">α</text>
<text transform="translate(50.7 -4.4) scale(0.6038 1)" font-size="6.4" fill="#222" stroke="#222" stroke-width="0.2">WT</text>
<text transform="translate(57.9 0) scale(0.7955 1)" font-size="8.6" fill="#222" stroke="#222" stroke-width="0.2">-tryptase</text>
</g>
<path d="M286.3 414.9 V409.9 H341.5 V414.9 M286.3 425.09999999999997 V419.59999999999997 H312.4 V425.09999999999997 M315.4 425.09999999999997 V419.59999999999997 H341.5 V425.09999999999997" fill="none" stroke="#333" stroke-width="1.1"/>
<text x="313.9" y="409.29999999999995" font-size="6.4" fill="#222" stroke="#222" stroke-width="0.3" text-anchor="middle" class="b">**</text>
<text x="299.70000000000005" y="419.09999999999997" font-size="6.4" fill="#222" stroke="#222" stroke-width="0.3" text-anchor="middle" class="b">*</text>
<text x="328.3" y="419.09999999999997" font-size="6.4" fill="#222" stroke="#222" stroke-width="0.3" text-anchor="middle" class="b">*</text>
<line x1="332" y1="480.5" x2="350" y2="480.5" stroke="#222" stroke-width="0.9"/>
<line x1="305" y1="538" x2="322.5" y2="538" stroke="#222" stroke-width="0.9"/>
<circle cx="341" cy="432" r="2.3" fill="#f8ccd9" stroke="#2a1a22" stroke-width="1.05"/>
<circle cx="341" cy="450" r="2.3" fill="#f8ccd9" stroke="#2a1a22" stroke-width="1.05"/>
<circle cx="341" cy="478.7" r="2.3" fill="#45a452" stroke="#2a1a22" stroke-width="1.05"/>
<path d="M341 479.4 L343.6 482 L341 484.6 L338.4 482 Z" fill="#fde6ee" stroke="#2a1a22" stroke-width="1.05"/>
<path d="M341 502.9 L343.6 505.5 L341 508.1 L338.4 505.5 Z" fill="#f8ccd9" stroke="#2a1a22" stroke-width="1.05"/>
<path d="M341 525.9 L343.6 528.5 L341 531.1 L338.4 528.5 Z" fill="#45a452" stroke="#2a1a22" stroke-width="1.05"/>
<path d="M313.5 533.4 L316.1 536 L313.5 538.6 L310.9 536 Z" fill="#3a8fb4" stroke="#2a1a22" stroke-width="1.05"/>
<path d="M313.5 536.1 L316.1 538.7 L313.5 541.3000000000001 L310.9 538.7 Z" fill="#1d4a6a" stroke="#2a1a22" stroke-width="1.05"/>
<path d="M313.5 544.4 L316.1 547 L313.5 549.6 L310.9 547 Z" fill="#1d4a6a" stroke="#2a1a22" stroke-width="1.05"/>
<circle cx="280.4" cy="564.9" r="2.3" fill="#fff" stroke="#2a1a22" stroke-width="1.05"/>
<circle cx="284.5" cy="566.5" r="2.1" fill="#fff" stroke="#2a1a22" stroke-width="1.05"/>
<circle cx="286.9" cy="566.5" r="2.1" fill="#fff" stroke="#2a1a22" stroke-width="1.05"/>
<circle cx="289.2" cy="566.5" r="2.1" fill="#fff" stroke="#2a1a22" stroke-width="1.05"/>
<path d="M292 564.1 L294.4 566.5 L292 568.9 L289.6 566.5 Z" fill="#fff" stroke="#2a1a22" stroke-width="1.05"/>
</svg></body></html>
